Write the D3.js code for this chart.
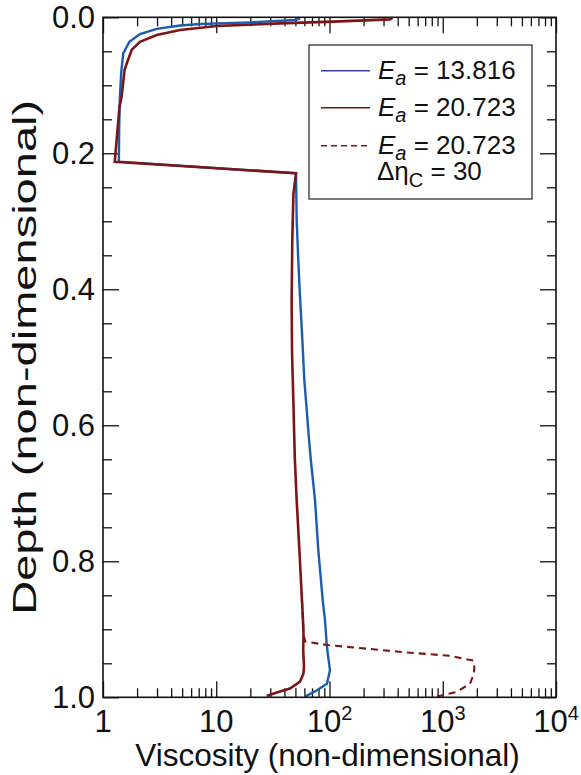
<!DOCTYPE html>
<html>
<head>
<meta charset="utf-8">
<script src="https://cdn.jsdelivr.net/npm/d3@7/dist/d3.min.js"></script>
<style>
  body { margin: 0; background: #fff; }
  text { font-family: "Liberation Sans", Arial, sans-serif; fill: #111; }
</style>
</head>
<body>
<svg id="chart" width="581" height="775"></svg>
<script>
// depth (non-dimensional) and viscosity
var blueDepth = [0.002, 0.004, 0.0074, 0.0099, 0.012, 0.017, 0.0246, 0.036, 0.053, 0.08, 0.117, 0.16, 0.2124,
  0.2294, 0.298, 0.357, 0.411, 0.475, 0.533, 0.577, 0.62, 0.649, 0.71, 0.783, 0.857, 0.886, 0.921, 0.935, 0.955, 0.96, 0.98, 0.99, 0.999];
var blueVisc = [55, 49.6, 19.9, 7.2, 4.8, 2.98, 2.12, 1.71, 1.51, 1.45, 1.41, 1.39, 1.38,
  50.6, 51.3, 53.0, 54.9, 57.6, 59.9, 62.9, 65.9, 68.2, 74.5, 79.6, 87.1, 91.2, 94.4, 96.4, 100, 101, 95, 76.9, 60.8];

var redDepth = [0.001, 0.003, 0.0064, 0.0089, 0.0128, 0.0187, 0.026, 0.036, 0.048, 0.068, 0.0775, 0.117, 0.131, 0.18, 0.2124,
  0.2294, 0.26, 0.33, 0.42, 0.494, 0.573, 0.649, 0.71, 0.783, 0.857, 0.886, 0.906, 0.93, 0.955, 0.965, 0.977, 0.987, 0.993, 0.998];
var redVisc = [360, 342, 107, 36.6, 10.1, 4.8, 2.98, 2.12, 1.79, 1.62, 1.55, 1.46, 1.4, 1.32, 1.27,
  50.6, 48, 46.9, 46.3, 46.7, 48.1, 49.4, 51.3, 54.2, 57.1, 58.3, 58.9, 58.6, 59.5, 58.9, 54.9, 44.8, 34.2, 27.9];

var dashDepth = [0.857, 0.886, 0.906, 0.918, 0.923, 0.934, 0.939, 0.946, 0.955, 0.965, 0.98, 0.989, 0.992, 0.999];
var dashVisc = [57.1, 58.3, 58.9, 60.9, 94.4, 481, 1159, 1862, 1900, 1888, 1741, 1420, 1327, 885];

var xMajor = [1, 10, 100, 1000, 10000];
var xMajorLabels = [["1", ""], ["10", ""], ["10", "2"], ["10", "3"], ["10", "4"]];
var yMajor = [0, 0.2, 0.4, 0.6, 0.8, 1.0];
var yMajorLabels = ["0.0", "0.2", "0.4", "0.6", "0.8", "1.0"];

var legendItems = [
  { value: "13.816", color: "#3b3d9c", dash: null },
  { value: "20.723", color: "#7d1517", dash: null },
  { value: "20.723", color: "#7d1517", dash: "6,4" }
];

var svg = d3.select("#chart");
var ml = 103, mt = 17.3, w = 453, h = 680;

var x = d3.scaleLog().domain([1, 10000]).range([ml, ml + w]);
var y = d3.scaleLinear().domain([0, 1]).range([mt, mt + h]);

// minor tick values
var xMinor = [];
for (var dec = 1; dec < 10000; dec *= 10) {
  for (var k = 2; k < 10; k++) xMinor.push(dec * k);
}
var yMinor = d3.range(0, 1.0001, 0.05).filter(function (v) { return Math.abs(v * 5 - Math.round(v * 5)) > 1e-6; });

function tickAxis(axisFn, scale, vals, size, tr) {
  var g = svg.append("g").attr("transform", tr)
    .call(axisFn(scale).tickValues(vals).tickSize(size).tickFormat(""));
  g.select(".domain").remove();
  g.selectAll(".tick line").attr("stroke", "#111").attr("stroke-width", 1.3);
}

tickAxis(d3.axisBottom, x, xMajor, -16, "translate(0," + (mt + h) + ")");
tickAxis(d3.axisBottom, x, xMinor, -9, "translate(0," + (mt + h) + ")");
tickAxis(d3.axisTop, x, xMajor, -16, "translate(0," + mt + ")");
tickAxis(d3.axisTop, x, xMinor, -9, "translate(0," + mt + ")");
tickAxis(d3.axisLeft, y, yMajor, -16, "translate(" + ml + ",0)");
tickAxis(d3.axisLeft, y, yMinor, -9, "translate(" + ml + ",0)");
tickAxis(d3.axisRight, y, yMajor, -16, "translate(" + (ml + w) + ",0)");
tickAxis(d3.axisRight, y, yMinor, -9, "translate(" + (ml + w) + ",0)");

// curves
var line = d3.line().x(function (d) { return x(d[0]); }).y(function (d) { return y(d[1]); });
var plot = svg.append("g");
plot.append("path").datum(d3.zip(blueVisc, blueDepth))
  .attr("d", line).attr("fill", "none").attr("stroke", "#1a5db0").attr("stroke-width", 2.4);
plot.append("path").datum(d3.zip(dashVisc, dashDepth))
  .attr("d", line).attr("fill", "none").attr("stroke", "#7d1517").attr("stroke-width", 2.1)
  .attr("stroke-dasharray", "7,5");
plot.append("path").datum(d3.zip(redVisc, redDepth))
  .attr("d", line).attr("fill", "none").attr("stroke", "#7d1517").attr("stroke-width", 2.6);

// frame
svg.append("rect").attr("x", ml).attr("y", mt).attr("width", w).attr("height", h)
  .attr("fill", "none").attr("stroke", "#111").attr("stroke-width", 1.6);

// x tick labels
var xl = svg.append("g");
xMajor.forEach(function (v, i) {
  var t = xl.append("text").attr("x", x(v)).attr("y", 732).attr("text-anchor", "middle")
    .style("font-size", "31px");
  t.append("tspan").text(xMajorLabels[i][0]);
  if (xMajorLabels[i][1]) {
    t.append("tspan").attr("dy", -12).style("font-size", "20px").text(xMajorLabels[i][1]);
  }
});

// y tick labels
yMajor.forEach(function (v, i) {
  svg.append("text").attr("x", 95).attr("y", y(v)).attr("dy", "0.36em")
    .attr("text-anchor", "end").style("font-size", "31px").text(yMajorLabels[i]);
});

// axis titles
svg.append("text").attr("x", ml + w / 2 - 2).attr("y", 766).attr("text-anchor", "middle")
  .style("font-size", "31.5px").text("Viscosity (non-dimensional)");
svg.append("text").attr("transform", "translate(36," + (mt + h / 2) + ") rotate(-90)")
  .attr("text-anchor", "middle").style("font-size", "34px")
  .attr("textLength", 515).attr("lengthAdjust", "spacingAndGlyphs")
  .text("Depth (non-dimensional)");

// legend
var lg = svg.append("g");
lg.append("rect").attr("x", 309).attr("y", 45).attr("width", 223).attr("height", 154)
  .attr("fill", "#fff").attr("stroke", "#333").attr("stroke-width", 1.3);
var rows = [70.7, 107.7, 145.7];
legendItems.forEach(function (d, i) {
  lg.append("line").attr("x1", 321).attr("x2", 370).attr("y1", rows[i]).attr("y2", rows[i])
    .attr("stroke", d.color).attr("stroke-width", 1.6).attr("stroke-dasharray", d.dash);
  var t = lg.append("text").attr("x", 378).attr("y", rows[i] + 8).style("font-size", "26px");
  t.append("tspan").style("font-style", "italic").text("E");
  t.append("tspan").attr("dy", 6).style("font-size", "20px").style("font-style", "italic").text("a");
  t.append("tspan").attr("dy", -6).text(" = " + d.value);
});
var t2 = lg.append("text").attr("x", 377).attr("y", 180).style("font-size", "26px");
t2.append("tspan").text("\u0394\u03b7");
t2.append("tspan").attr("dy", 7).style("font-size", "20px").text("C");
t2.append("tspan").attr("dy", -7).text(" = 30");
</script>
</body>
</html>
